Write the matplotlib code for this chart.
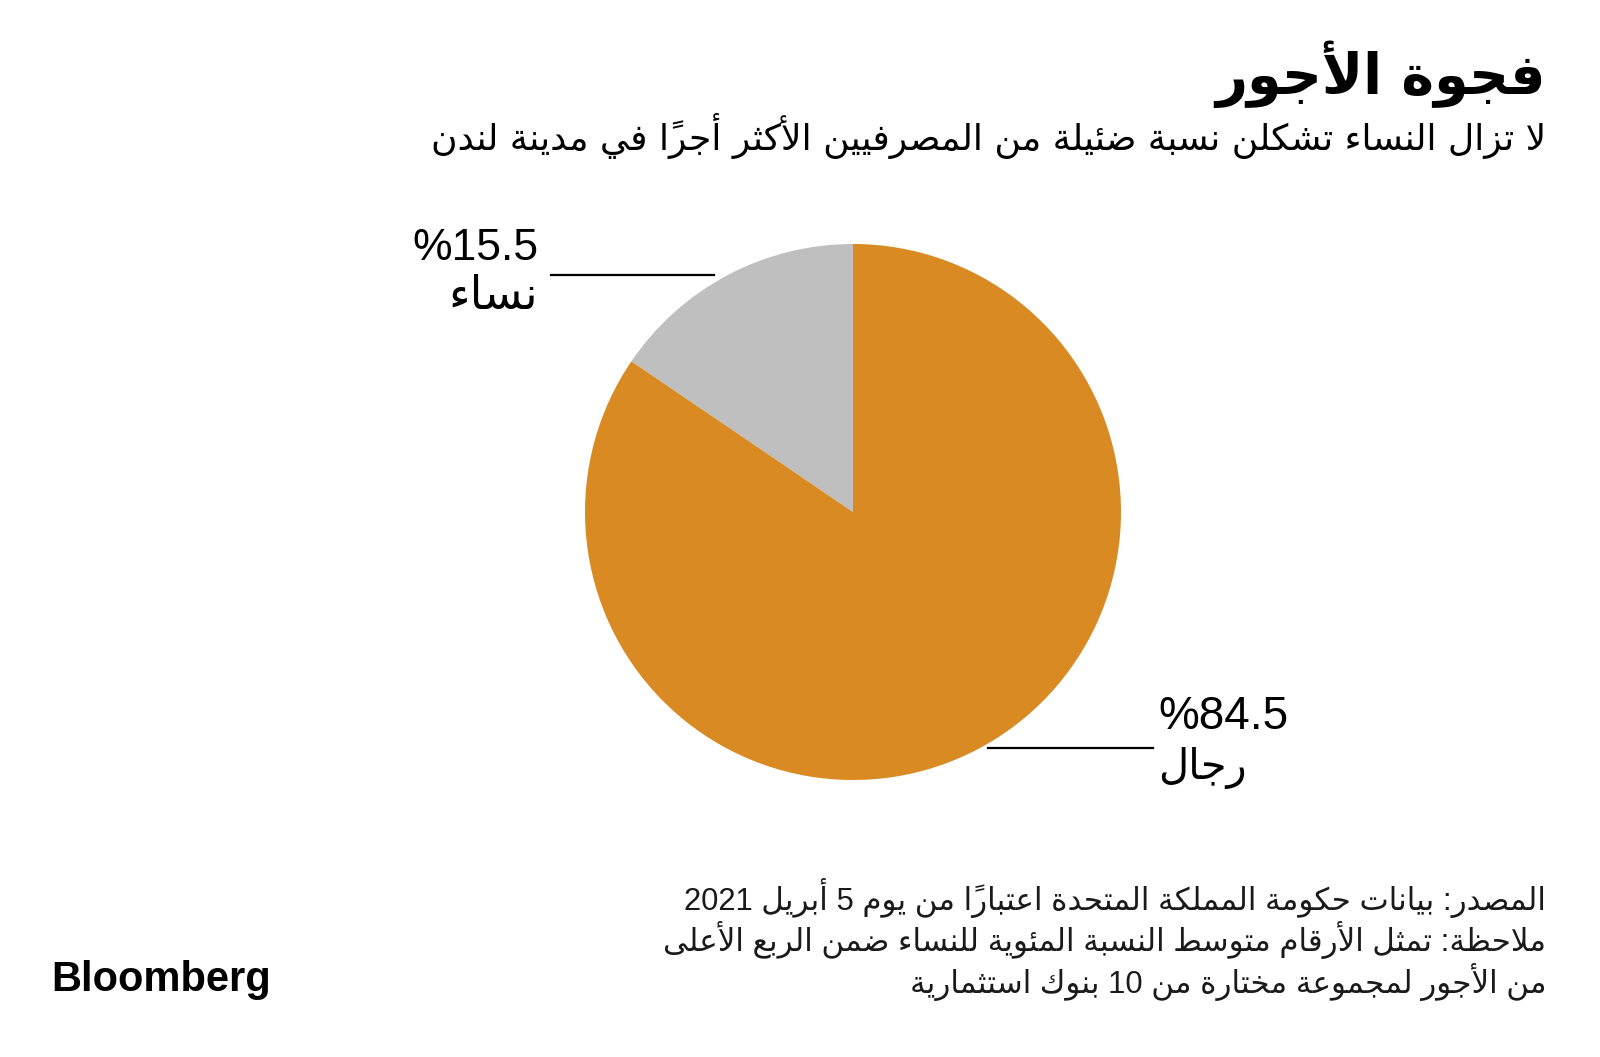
import matplotlib
matplotlib.use("Agg")
import matplotlib.pyplot as plt
from matplotlib.lines import Line2D

# --- datos ---
labels = ["نساء", "رجال"]
valores = [15.5, 84.5]
colores = ["#bfbfbf", "#d98a22"]
titulo = "فجوة الأجور"
subtitulo = "لا تزال النساء تشكلن نسبة ضئيلة من المصرفيين الأكثر أجراً في مدينة لندن"
notas = [
    "المصدر: بيانات حكومة المملكة المتحدة اعتباراً من يوم 5 أبريل 2021",
    "ملاحظة: تمثل الأرقام متوسط النسبة المئوية للنساء ضمن الربع الأعلى",
    "من الأجور لمجموعة مختارة من 10 بنوك استثمارية",
]

# --- formas arabes (aislada, final, inicial, media) ---
_letras = [("ء", 1), ("آ", 2), ("أ", 2), ("ؤ", 2), ("إ", 2), ("ئ", 4), ("ا", 2),
           ("ب", 4), ("ة", 2), ("ت", 4), ("ث", 4), ("ج", 4), ("ح", 4), ("خ", 4),
           ("د", 2), ("ذ", 2), ("ر", 2), ("ز", 2), ("س", 4), ("ش", 4), ("ص", 4),
           ("ض", 4), ("ط", 4), ("ظ", 4), ("ع", 4), ("غ", 4), ("ف", 4), ("ق", 4),
           ("ك", 4), ("ل", 4), ("م", 4), ("ن", 4), ("ه", 4), ("و", 2), ("ى", 2),
           ("ي", 4)]
FORMAS = {}
_cp = 0xFE80
for c, n in _letras:
    FORMAS[c] = [chr(_cp + k) for k in range(n)]
    _cp += n
LAM_ALEF = {"آ": ["\uFEF5", "\uFEF6"], "أ": ["\uFEF7", "\uFEF8"],
            "إ": ["\uFEF9", "\uFEFA"], "ا": ["\uFEFB", "\uFEFC"]}
MARCAS = set(chr(c) for c in range(0x064B, 0x0653))


def arabe(texto):
    # clusters: [base, marcas]
    cl = []
    i = 0
    while i < len(texto):
        ch = texto[i]
        if ch in MARCAS and cl:
            cl[-1][1] += ch
        elif ch == "ل" and i + 1 < len(texto) and texto[i + 1] in LAM_ALEF:
            cl.append(["LA" + texto[i + 1], ""])
            i += 1
        else:
            cl.append([ch, ""])
        i += 1

    def n_formas(b):
        if b.startswith("LA"):
            return 2
        return len(FORMAS.get(b, []))

    out = []
    for k, (b, m) in enumerate(cl):
        n = n_formas(b)
        if n == 0:
            out.append(b + m)
            continue
        prev = cl[k - 1][0] if k > 0 else ""
        nxt = cl[k + 1][0] if k + 1 < len(cl) else ""
        une_prev = n > 1 and n_formas(prev) == 4
        une_sig = n == 4 and n_formas(nxt) > 0
        if b.startswith("LA"):
            g = LAM_ALEF[b[2]][1 if une_prev else 0]
            out.append(g + m)
            continue
        f = FORMAS[b]
        if une_prev and une_sig:
            g = f[3]
        elif une_prev:
            g = f[1]
        elif une_sig:
            g = f[2]
        else:
            g = f[0]
        out.append(g + m)
    out = out[::-1]
    # numeros en orden izquierda-derecha
    res = []
    run = []
    for c in out:
        if len(c) == 1 and (c.isdigit() or c in ".%") and c.isascii():
            run.append(c)
        else:
            res.extend(run[::-1])
            run = []
            res.append(c)
    res.extend(run[::-1])
    return "".join(res)


W, H = 1600, 1057
fig = plt.figure(figsize=(W / 100, H / 100), dpi=100)
fig.patch.set_facecolor("white")


def fx(px):
    return px / W


def fy(py):
    return 1 - py / H


fuente = ["Liberation Sans", "DejaVu Sans"]

# titulo y subtitulo
fig.text(fx(1546), fy(94), arabe(titulo), ha="right", va="baseline",
         fontsize=40, fontweight="bold", family=["DejaVu Sans"], color="black")
fig.text(fx(1546), fy(136), arabe(subtitulo), ha="right", va="center",
         fontsize=26, family=["DejaVu Sans"], color="black")

# pastel
cx, cy, r = 853, 512, 268
ax = fig.add_axes([fx(cx - r), fy(cy + r), 2 * r / W, 2 * r / H])
ax.pie(valores, colors=colores, startangle=90, counterclock=True,
       wedgeprops=dict(linewidth=0))
ax.set_xlim(-1, 1)
ax.set_ylim(-1, 1)
ax.axis("off")

# etiquetas
fig.add_artist(Line2D([fx(551), fx(714)], [fy(275), fy(275)], color="black", lw=1.6))
fig.text(fx(538), fy(249), "%" + f"{valores[0]:.1f}", ha="right", va="center",
         fontsize=32, family=fuente)
fig.text(fx(538), fy(297), arabe(labels[0]), ha="right", va="center",
         fontsize=33, family=fuente)

fig.add_artist(Line2D([fx(988), fx(1153)], [fy(748), fy(748)], color="black", lw=1.6))
fig.text(fx(1158), fy(717), "%" + f"{valores[1]:.1f}", ha="left", va="center",
         fontsize=33, family=fuente)
fig.text(fx(1158), fy(768), arabe(labels[1]), ha="left", va="center",
         fontsize=30, family=fuente)

# notas
for i, linea in enumerate(notas):
    fig.text(fx(1546), fy(898 + 42 * i), arabe(linea), ha="right", va="center",
             fontsize=22.3, family=fuente, color="#1a1a1a")

fig.text(fx(51), fy(980), "Bloomberg", ha="left", va="center", fontsize=30,
         fontweight="bold", family=["Liberation Sans"], color="black")

fig.savefig("out.png", dpi=100, facecolor="white")
